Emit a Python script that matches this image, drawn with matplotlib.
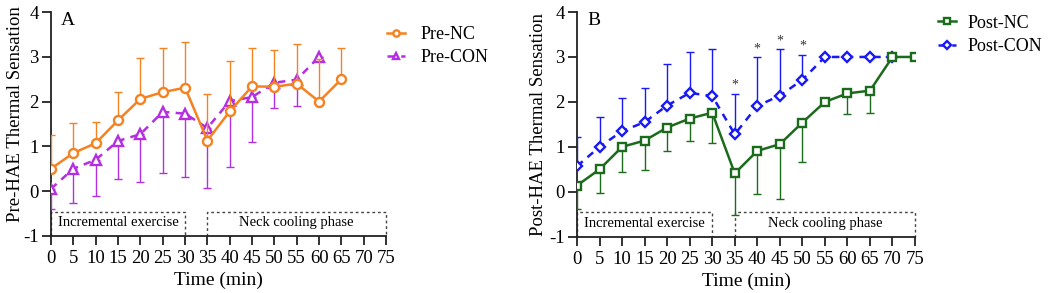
import matplotlib
matplotlib.use("Agg")
import matplotlib.pyplot as plt
import numpy as np

plt.rcParams['font.family'] = ['Liberation Serif', 'DejaVu Serif']
plt.rcParams['axes.unicode_minus'] = False

time_pre_nc = [0, 5, 10, 15, 20, 25, 30, 35, 40, 45, 50, 55, 60, 65]
pre_nc = [0.5, 0.85, 1.07, 1.58, 2.06, 2.21, 2.31, 1.13, 1.78, 2.34, 2.33, 2.40, 2.0, 2.5]
pre_nc_upper = [1.26, 1.52, 1.55, 2.22, 2.98, 3.19, 3.33, 2.16, 2.90, 3.19, 3.15, 3.29, 2.95, 3.20]

time_pre_con = [0, 5, 10, 15, 20, 25, 30, 35, 40, 45, 50, 55, 60]
pre_con = [0.05, 0.5, 0.70, 1.12, 1.27, 1.77, 1.73, 1.41, 2.01, 2.10, 2.42, 2.49, 3.0]
pre_con_lower = [-0.40, -0.26, -0.10, 0.27, 0.21, 0.41, 0.32, 0.08, 0.53, 1.10, 1.85, 1.91, 3.0]

time_post_nc = [0, 5, 10, 15, 20, 25, 30, 35, 40, 45, 50, 55, 60, 65, 70, 75]
post_nc = [0.14, 0.50, 1.0, 1.14, 1.43, 1.63, 1.76, 0.41, 0.91, 1.06, 1.54, 2.0, 2.19, 2.25, 3.0, 3.0]
post_nc_lower = [-0.39, -0.02, 0.43, 0.48, 0.91, 1.14, 1.08, -0.52, -0.05, -0.15, 0.67, 2.0, 1.74, 1.75, 3.0, 3.0]

time_post_con = [0, 5, 10, 15, 20, 25, 30, 35, 40, 45, 50, 55, 60, 65, 70]
post_con = [0.57, 1.0, 1.35, 1.55, 1.92, 2.2, 2.13, 1.28, 1.91, 2.14, 2.49, 3.0, 3.0, 3.0, 3.0]
post_con_upper = [1.21, 1.67, 2.09, 2.32, 2.84, 3.10, 3.17, 2.18, 2.99, 3.17, 3.04, 3.0, 3.0, 3.0, 3.0]

star_times = [35, 40, 45, 50]

xticks = list(range(0, 80, 5))
yticks = [-1, 0, 1, 2, 3, 4]

ORANGE = '#F58220'
PURPLE = '#B52EE0'
GREEN = '#1C6B1C'
BLUE = '#1919F5'

fig = plt.figure(figsize=(10.52, 2.93), dpi=100)
axA = fig.add_axes([0.0485, 0.195, 0.3185, 0.764])
axB = fig.add_axes([0.5485, 0.192, 0.3213, 0.767])


def style(ax, ylabel, letter, lx, ly):
    ax.set_xlim(0, 75)
    ax.set_ylim(-1, 4)
    ax.set_xticks(xticks)
    ax.set_yticks(yticks)
    ax.spines['top'].set_visible(False)
    ax.spines['right'].set_visible(False)
    for s in ['left', 'bottom']:
        ax.spines[s].set_linewidth(1.3)
        ax.spines[s].set_color('#222222')
    ax.tick_params(axis='both', labelsize=13.5, width=1.3, length=6.5, color='#222222', pad=2.5)
    ax.tick_params(axis='x', pad=4)
    ax.set_xlabel('Time (min)', fontsize=14, labelpad=3)
    ax.set_ylabel(ylabel, fontsize=13.5, labelpad=1)
    ax.yaxis.set_label_coords(lx, ly)
    ax.text(0.03, 1.0, letter, transform=ax.transAxes, fontsize=14, va='top', ha='left')
    # phase boxes
    top = -0.46
    kw = dict(color='#444444', lw=1.0, ls=(0, (2, 2)), clip_on=False, zorder=1)
    for x0, x1, label in [(0, 30, 'Incremental exercise'), (35, 75, 'Neck cooling phase')]:
        ax.plot([x0, x0, x1, x1], [-1, top, top, -1], **kw)
        ax.text((x0 + x1) / 2, (top - 1) / 2 + 0.02, label, ha='center', va='center', fontsize=10.5)


def plot_series(ax, t, y, lo, hi, color, marker, ls, ms, label, z):
    y = np.array(y)
    yerr = [y - np.array(lo), np.array(hi) - y]
    ax.errorbar(t, y, yerr=yerr, fmt='none', ecolor=color, elinewidth=1.0,
                capsize=3, capthick=1.0, zorder=z)
    ax.plot(t, y, color=color, ls=ls, lw=1.8, marker=marker, ms=ms,
            mfc='white', mec=color, mew=1.7, label=label, zorder=z + 0.5)


style(axA, 'Pre-HAE Thermal Sensation', 'A', -0.08, 0.545)
plot_series(axA, time_pre_con, pre_con, pre_con_lower, pre_con, PURPLE, '^', (0, (3, 2.5)), 6.5, 'Pre-CON', 3)
plot_series(axA, time_pre_nc, pre_nc, pre_nc, pre_nc_upper, ORANGE, 'o', '-', 6.5, 'Pre-NC', 4)
hA, lA = axA.get_legend_handles_labels()
axA.legend([hA[1], hA[0]], [lA[1], lA[0]], loc='upper left', bbox_to_anchor=(0.955, 1.01),
           frameon=False, fontsize=13, handlelength=1.0, handletextpad=0.85,
           markerscale=0.7, labelspacing=0.35)

style(axB, 'Post-HAE Thermal Sensation', 'B', -0.09, 0.5)
plot_series(axB, time_post_con, post_con, post_con, post_con_upper, BLUE, 'D', (0, (3, 2.5)), 5.5, 'Post-CON', 3)
plot_series(axB, time_post_nc, post_nc, post_nc_lower, post_nc, GREEN, 's', '-', 6, 'Post-NC', 4)
for t in star_times:
    v = post_con_upper[time_post_con.index(t)]
    axB.text(t, v + 0.05, '*', ha='center', va='bottom', fontsize=10, color='#333333')
hB, lB = axB.get_legend_handles_labels()
axB.legend([hB[1], hB[0]], [lB[1], lB[0]], loc='upper left', bbox_to_anchor=(1.02, 1.06),
           frameon=False, fontsize=13, handlelength=1.0, handletextpad=0.65,
           markerscale=0.7, labelspacing=0.35)

fig.savefig('out.png', dpi=100)
